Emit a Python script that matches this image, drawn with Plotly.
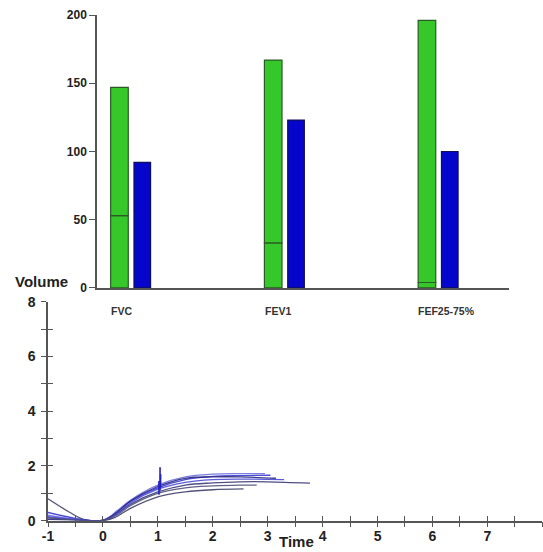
import plotly.graph_objects as go

# Spirometry summary: % predicted bars
categories = ["FVC", "FEV1", "FEF25-75%"]
green_lower = [53, 33, 4]        # lower green segment top
green_upper = [147, 167, 196]    # full green bar height
blue_values = [92, 123, 100]

# Volume-time curves (time in s, volume in L)
curves = [
    ([-1, -0.6, -0.35, 0, 0.2, 0.5, 1.0, 1.5, 2.0, 2.56],
     [0.8, 0.3, 0.05, 0.0, 0.1, 0.45, 0.87, 1.05, 1.13, 1.16]),
    ([-1, -0.5, -0.2, 0, 0.25, 0.5, 1.0, 1.5, 2.0, 2.5, 3.0, 3.77],
     [0.1, 0.05, 0.0, 0.02, 0.25, 0.6, 1.05, 1.3, 1.38, 1.42, 1.42, 1.37]),
    ([-1, -0.5, -0.2, 0, 0.25, 0.5, 1.0, 1.5, 2.0, 2.5, 3.05],
     [0.3, 0.08, 0.0, 0.02, 0.3, 0.7, 1.2, 1.5, 1.62, 1.65, 1.66]),
    ([-1, -0.5, 0, 0.25, 0.5, 1.0, 1.5, 2.0, 2.5, 2.95],
     [0.2, 0.05, 0.0, 0.35, 0.75, 1.3, 1.6, 1.7, 1.72, 1.72]),
    ([-1, -0.4, 0, 0.25, 0.5, 1.0, 1.5, 2.0, 2.5, 3.15],
     [0.05, 0.02, 0.0, 0.3, 0.72, 1.25, 1.55, 1.6, 1.6, 1.55]),
    ([-1, -0.5, 0, 0.25, 0.5, 1.0, 1.5, 2.0, 2.5, 3.3],
     [0.15, 0.04, 0.0, 0.25, 0.65, 1.15, 1.4, 1.5, 1.52, 1.5]),
    ([-1, -0.5, 0, 0.25, 0.5, 1.0, 1.5, 2.0, 2.5, 2.8],
     [0.1, 0.03, 0.0, 0.2, 0.55, 1.0, 1.2, 1.27, 1.3, 1.3]),
]
curve_colors = ["#44446e", "#3c3c78", "#3a3ad0", "#7070e0", "#2a2a80", "#4a4ad8", "#50507a"]

# FEV1 markers at 1 s
fev1_t = [1.02, 1.04, 1.05]
fev1_low = [0.95, 1.1, 1.2]
fev1_high = [1.45, 1.95, 1.7]

FONT = "Liberation Sans, Arial, sans-serif"
AXIS = "#555555"
TXT = "#222222"

fig = go.Figure()

# Green bars drawn as two stacked segments so the inner boundary shows
green_style = dict(color="#36c82a", line=dict(color="#2b5a25", width=1.2))
fig.add_trace(go.Bar(
    x=categories, y=green_lower, xaxis="x", yaxis="y",
    width=0.1145, offset=-0.128, marker=green_style,
    hoverinfo="skip", showlegend=False))
fig.add_trace(go.Bar(
    x=categories, y=[u - l for u, l in zip(green_upper, green_lower)], base=green_lower,
    xaxis="x", yaxis="y", width=0.1145, offset=-0.128, marker=green_style,
    hoverinfo="skip", showlegend=False))
fig.add_trace(go.Bar(
    x=categories, y=blue_values, xaxis="x", yaxis="y",
    width=0.108, offset=0.0237,
    marker=dict(color="#0505cc", line=dict(color="#10105a", width=1.2)),
    hoverinfo="skip", showlegend=False))

for (t, v), c in zip(curves, curve_colors):
    fig.add_trace(go.Scatter(
        x=t, y=v, xaxis="x2", yaxis="y2", mode="lines",
        line=dict(color=c, width=1.3, shape="spline", smoothing=1.0),
        opacity=0.9, hoverinfo="skip", showlegend=False))

sx, sy = [], []
for t, lo, hi in zip(fev1_t, fev1_low, fev1_high):
    sx += [t, t, None]
    sy += [lo, hi, None]
fig.add_trace(go.Scatter(x=sx, y=sy, xaxis="x2", yaxis="y2", mode="lines",
                         line=dict(color="#2020c0", width=1.6),
                         hoverinfo="skip", showlegend=False))

# invisible points so the overlay tick axes (inner half of crossing ticks) get drawn
fig.add_trace(go.Scatter(x=[0], y=[0], xaxis="x3", yaxis="y2", mode="markers",
                         marker=dict(opacity=0, size=1),
                         hoverinfo="skip", showlegend=False))
fig.add_trace(go.Scatter(x=[0], y=[0], xaxis="x2", yaxis="y3", mode="markers",
                         marker=dict(opacity=0, size=1),
                         hoverinfo="skip", showlegend=False))

tickfont_small = dict(family=FONT, size=12, color=TXT, weight="bold")
tickfont_big = dict(family=FONT, size=14, color=TXT, weight="bold")

xt = [i / 2 for i in range(-2, 17)]
xt_text = [str(int(v)) if v == int(v) else "" for v in xt]
yt = list(range(0, 9))
yt_text = [str(v) if v % 2 == 0 else "" for v in yt]

common = dict(showgrid=False, zeroline=False, automargin=False)

fig.update_layout(
    width=543, height=552,
    margin=dict(l=0, r=0, t=0, b=0, autoexpand=False),
    paper_bgcolor="white", plot_bgcolor="white",
    barmode="overlay",
    xaxis=dict(domain=[0.1786, 0.9374], type="category", range=[-0.217, 2.463],
               showticklabels=False, ticks="", showline=True, linecolor=AXIS,
               linewidth=1.5, anchor="y", **common),
    yaxis=dict(domain=[0.4783, 0.9728], range=[0, 200], tickvals=[0, 50, 100, 150, 200],
               ticks="outside", ticklen=6, tickcolor=AXIS, tickfont=tickfont_small,
               showline=True, linecolor=AXIS, linewidth=1.5, anchor="x", **common),
    xaxis2=dict(domain=[0.0884, 0.9987], range=[-1, 8], tickvals=xt, ticktext=xt_text,
                ticks="outside", ticklen=5, tickwidth=1.2, tickcolor=AXIS,
                tickfont=tickfont_big, ticklabelstandoff=-3,
                showline=True, linecolor=AXIS, linewidth=1.5, anchor="y2", **common),
    yaxis2=dict(domain=[0.0567, 0.4534], range=[0, 8], tickvals=yt, ticktext=yt_text,
                ticks="outside", ticklen=5, tickwidth=1.2, tickcolor=AXIS,
                tickfont=tickfont_big, ticklabelstandoff=3,
                showline=True, linecolor=AXIS, linewidth=1.5, anchor="x2", **common),
    xaxis3=dict(overlaying="x2", range=[-1, 8], tickvals=xt, ticks="inside", ticklen=5,
                tickwidth=1.2, tickcolor=AXIS, showticklabels=False, showline=False,
                anchor="y2", **common),
    yaxis3=dict(overlaying="y2", range=[0, 8], tickvals=yt, ticks="inside", ticklen=5,
                tickwidth=1.2, tickcolor=AXIS, showticklabels=False, showline=False,
                anchor="x2", **common),
)

annotations = []
for i, name in enumerate(categories):
    annotations.append(dict(x=i - 0.14, y=0.4366, xref="x", yref="paper", text=name,
                            showarrow=False, xanchor="left", yanchor="middle",
                            font=dict(family=FONT, size=10.5, color="#333333", weight="bold")))
annotations.append(dict(x=41.5 / 543, y=1 - 281 / 552, xref="paper", yref="paper",
                        text="Volume", showarrow=False, xanchor="center", yanchor="middle",
                        font=dict(family=FONT, size=15, color=TXT, weight="bold")))
annotations.append(dict(x=296 / 543, y=0, xref="paper", yref="paper",
                        text="Time", showarrow=False, xanchor="center", yanchor="bottom",
                        font=dict(family=FONT, size=15, color=TXT, weight="bold")))
fig.update_layout(annotations=annotations)

fig.write_html("out.html")
